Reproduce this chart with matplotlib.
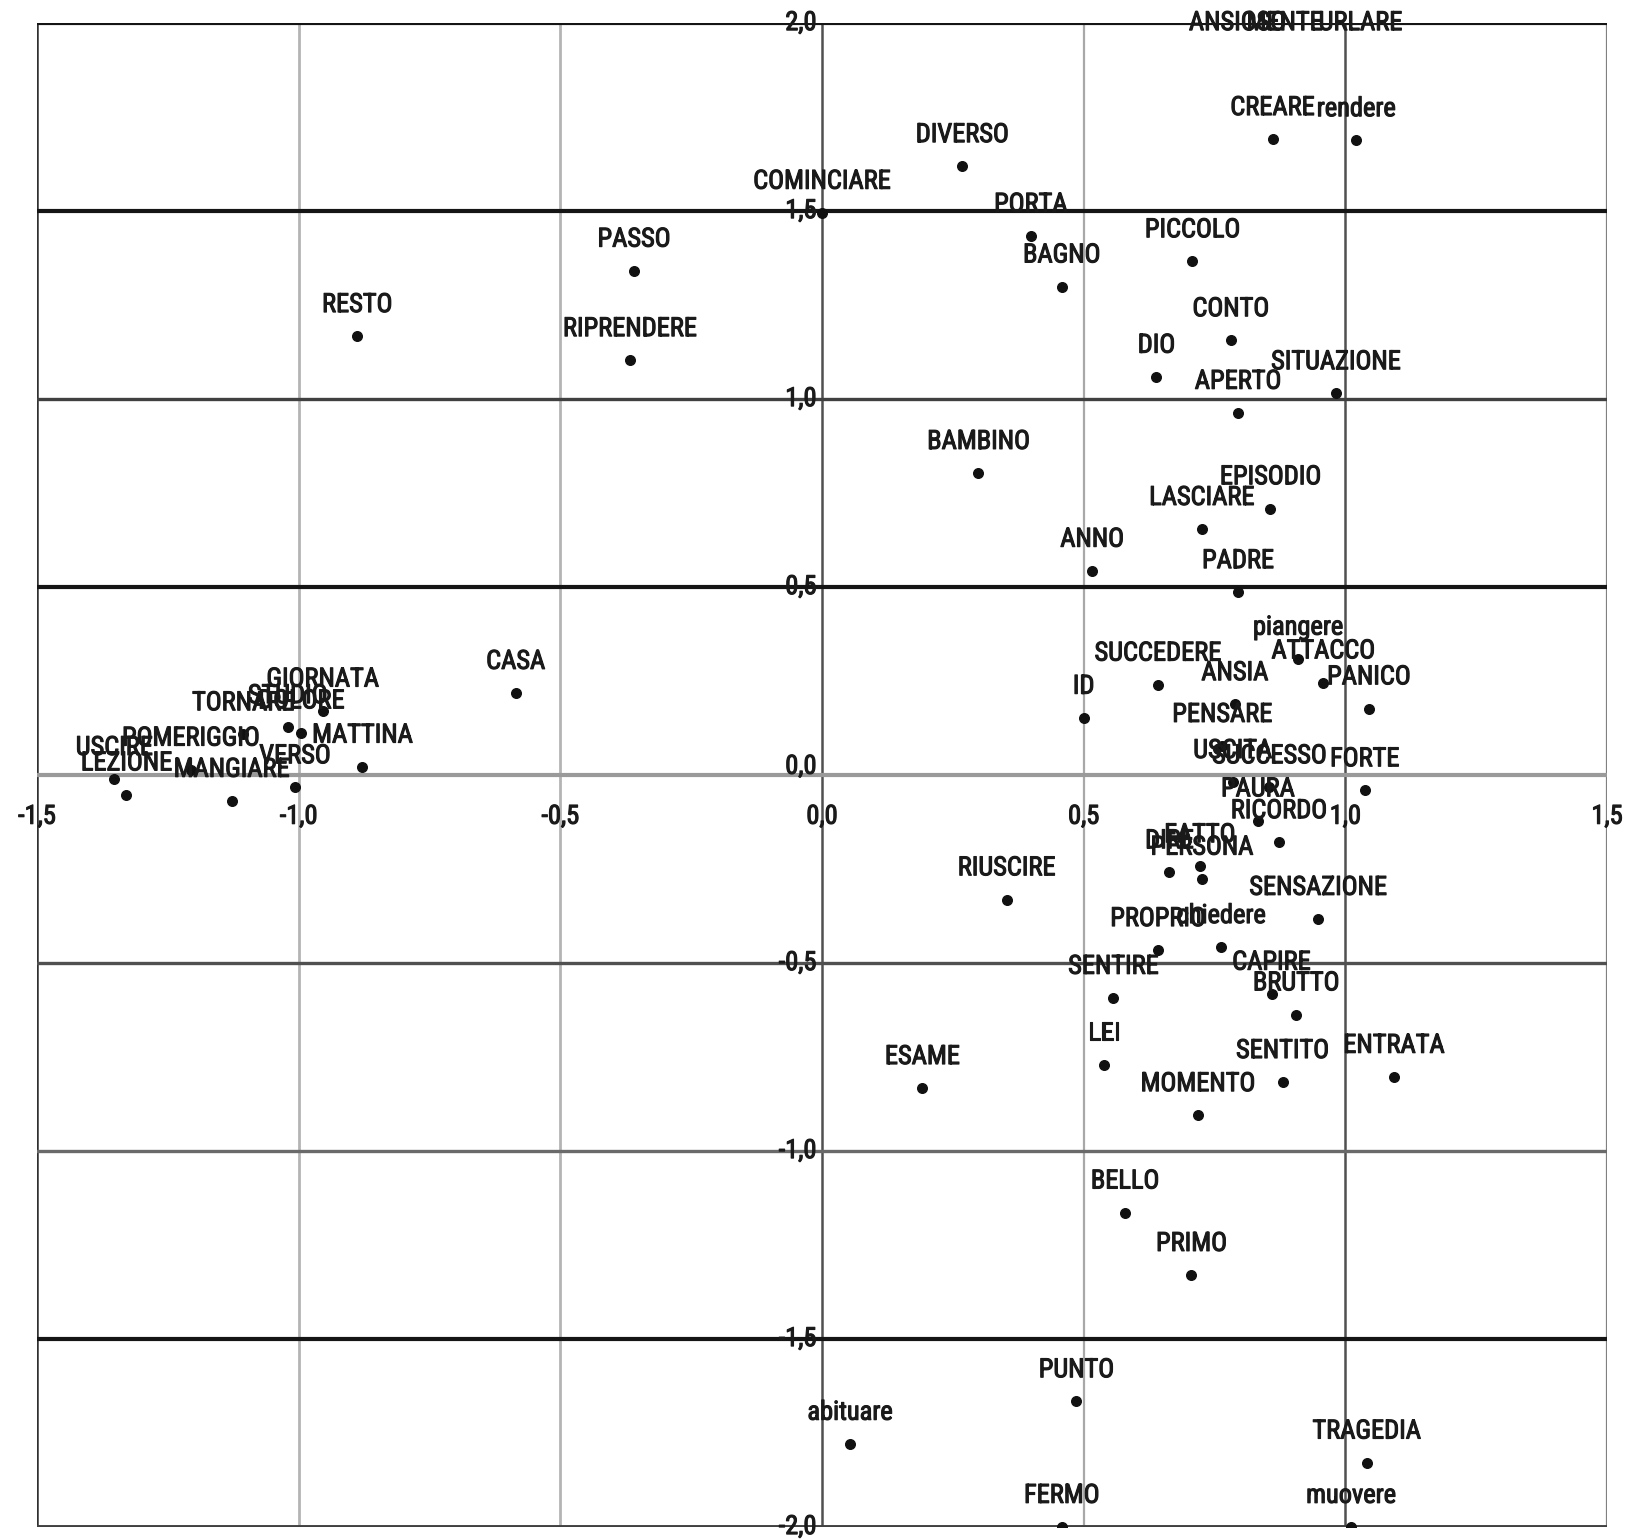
import matplotlib
matplotlib.use("Agg")
import matplotlib.pyplot as plt
import matplotlib.patheffects as pe
from matplotlib import font_manager

# pick a narrow face when one is available
_names = {f.name for f in font_manager.fontManager.ttflist}
_narrow = [n for n in ("Roboto Condensed", "Liberation Sans Narrow", "DejaVu Sans Condensed",
                       "Open Sans Condensed") if n in _names]
plt.rcParams['font.family'] = _narrow + ['DejaVu Sans']

# Word coordinates on the first two factorial axes
words = [
    "ANSIOSO", "MENTE", "URLARE",
    "CREARE", "rendere", "DIVERSO", "COMINCIARE", "PORTA", "PICCOLO", "BAGNO",
    "PASSO", "RESTO", "RIPRENDERE", "CONTO", "DIO", "SITUAZIONE", "APERTO",
    "BAMBINO", "EPISODIO", "LASCIARE", "ANNO", "PADRE", "piangere", "ATTACCO",
    "PANICO", "SUCCEDERE", "ANSIA", "ID", "PENSARE", "USCITA", "SUCCESSO",
    "FORTE", "PAURA", "RICORDO", "DIRE", "FATTO", "PERSONA", "SENSAZIONE",
    "RIUSCIRE", "PROPRIO", "chiedere", "SENTIRE", "CAPIRE", "BRUTTO", "LEI",
    "SENTITO", "ENTRATA", "ESAME", "MOMENTO", "BELLO", "PRIMO", "PUNTO",
    "abituare", "TRAGEDIA", "FERMO", "muovere", "CASA", "GIORNATA", "TORNARE",
    "STUDIO", "DOLORE", "POMERIGGIO", "USCIRE", "LEZIONE", "MANGIARE", "VERSO",
    "MATTINA",
]
dim1 = [
    0.794, 0.884, 1.029,
    0.861, 1.021, 0.268, 0.000, 0.399, 0.708, 0.458,
    -0.359, -0.888, -0.367, 0.781, 0.639, 0.982, 0.795,
    0.299, 0.857, 0.726, 0.516, 0.795, 0.910, 0.958,
    1.045, 0.642, 0.789, 0.500, 0.765, 0.785, 0.855,
    1.037, 0.833, 0.873, 0.664, 0.722, 0.726, 0.948,
    0.353, 0.642, 0.763, 0.557, 0.859, 0.906, 0.539,
    0.880, 1.093, 0.192, 0.718, 0.579, 0.706, 0.486,
    0.054, 1.041, 0.458, 1.011, -0.585, -0.954, -1.106,
    -1.021, -0.995, -1.206, -1.352, -1.329, -1.128, -1.007,
    -0.878,
]
dim2 = [
    2.10, 2.10, 2.10,
    1.691, 1.688, 1.619, 1.495, 1.434, 1.366, 1.299,
    1.341, 1.167, 1.103, 1.156, 1.059, 1.015, 0.963,
    0.803, 0.709, 0.654, 0.543, 0.486, 0.309, 0.246,
    0.177, 0.240, 0.188, 0.152, 0.077, -0.019, -0.033,
    -0.041, -0.121, -0.179, -0.259, -0.243, -0.276, -0.383,
    -0.331, -0.466, -0.458, -0.593, -0.582, -0.637, -0.770,
    -0.817, -0.803, -0.833, -0.905, -1.164, -1.330, -1.666,
    -1.779, -1.829, -2.000, -2.000, 0.218, 0.171, 0.108,
    0.127, 0.113, 0.014, -0.011, -0.052, -0.069, -0.033,
    0.022,
]

x_ticks = [-1.5, -1.0, -0.5, 0.0, 0.5, 1.0, 1.5]
y_ticks = [2.0, 1.5, 1.0, 0.5, 0.0, -0.5, -1.0, -1.5, -2.0]


def comma(v):
    return f"{v:.1f}".replace(".", ",")


fig = plt.figure(figsize=(16.27, 15.40), dpi=100)
ax = fig.add_axes([0.0227, 0.0084, 0.9650, 0.9766])
ax.set_xlim(x_ticks[0], x_ticks[-1])
ax.set_ylim(y_ticks[-1], y_ticks[0])
ax.set_xticks([])
ax.set_yticks([])
for s in ax.spines.values():
    s.set_visible(False)

# grid: vertical lines light, horizontal lines heavier
v_col = {-1.5: "#303030", -1.0: "#b4b4b4", -0.5: "#b4b4b4", 0.0: "#505050",
         0.5: "#a8a8a8", 1.0: "#505050", 1.5: "#808080"}
v_lw = {-1.5: 1.8, -1.0: 2.0, -0.5: 2.0, 0.0: 1.8, 0.5: 1.6, 1.0: 1.8, 1.5: 1.6}
for xv in x_ticks:
    ax.axvline(xv, color=v_col[xv], lw=v_lw[xv], zorder=1)

h_col = {2.0: "#151515", 1.5: "#151515", 1.0: "#404040", 0.5: "#151515",
         0.0: "#9a9a9a", -0.5: "#505050", -1.0: "#6a6a6a", -1.5: "#151515",
         -2.0: "#404040"}
h_lw = {2.0: 3.0, 1.5: 3.0, 1.0: 2.4, 0.5: 3.0, 0.0: 3.0, -0.5: 2.4,
        -1.0: 2.4, -1.5: 3.0, -2.0: 2.8}
for yv in y_ticks:
    ax.axhline(yv, color=h_col[yv], lw=h_lw[yv], zorder=1)

_fs = 19 if _narrow else 16
thick = [pe.withStroke(linewidth=0.8, foreground="#1a1a1a")]
txt = dict(fontsize=_fs, color="#1a1a1a", zorder=4, path_effects=thick)

# axis value labels placed on the central axes
for xv in x_ticks:
    ax.annotate(comma(xv), (xv, 0.0), xytext=(0, -30), textcoords="offset points",
                ha="center", va="center", **txt)
for yv in y_ticks:
    dy = 6 if yv == 0.0 else 0
    ax.annotate(comma(yv), (0.0, yv), xytext=(-4, dy), textcoords="offset points",
                ha="right", va="center", **txt)

# points and their word labels
ax.scatter(dim1, dim2, s=48, color="#111111", marker="o", zorder=3, clip_on=True)
ymax = y_ticks[0]
for w, xv, yv in zip(words, dim1, dim2):
    if yv > ymax:
        ax.annotate(w, (xv, ymax), ha="center", va="center", **txt)
    else:
        ax.annotate(w, (xv, yv), xytext=(0, 22.5), textcoords="offset points",
                    ha="center", va="center", **txt)

fig.savefig("out.png", dpi=100, facecolor="white")
